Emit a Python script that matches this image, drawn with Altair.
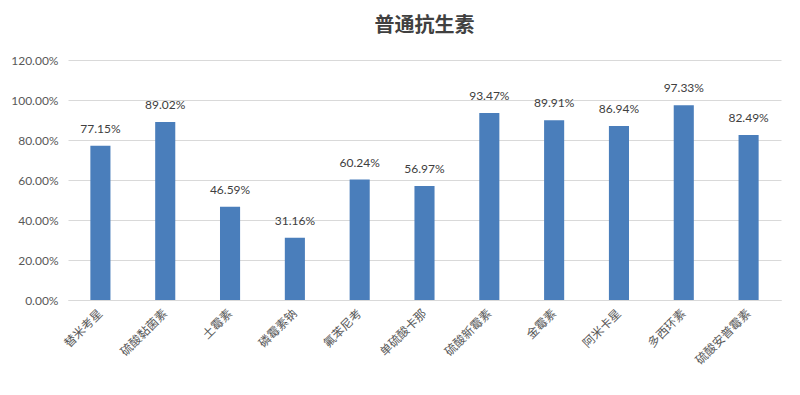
import altair as alt
import pandas as pd

categories = ["替米考星", "硫酸黏菌素", "土霉素", "磷霉素钠", "氟苯尼考", "单硫酸卡那",
              "硫酸新霉素", "金霉素", "阿米卡星", "多西环素", "硫酸安普霉素"]
values = [0.7715, 0.8902, 0.4659, 0.3116, 0.6024, 0.5697,
          0.9347, 0.8991, 0.8694, 0.9733, 0.8249]
y_ticks = [0, 0.2, 0.4, 0.6, 0.8, 1.0, 1.2]

df = pd.DataFrame({"cat": categories, "val": values})

FONT = "Noto Sans CJK SC"

x = alt.X("cat:N", sort=categories, title=None,
          scale=alt.Scale(paddingInner=0.69, paddingOuter=0.345),
          axis=alt.Axis(labelAngle=-45, labelAlign="right", labelBaseline="middle",
                        labelFont=FONT, labelFontSize=12, labelColor="#595959",
                        ticks=False, domainColor="#d9d9d9", labelPadding=11))
y = alt.Y("val:Q", title=None,
          scale=alt.Scale(domain=[0, 1.2], nice=False),
          axis=alt.Axis(values=y_ticks, format=".2%", labelFont="Lato", labelFontSize=12,
                        labelColor="#595959", ticks=False, domain=False,
                        gridColor="#d9d9d9", labelPadding=10, labelOverlap=False,
                        minExtent=60, maxExtent=60))

bars = alt.Chart(df).mark_bar(color="#4A7EBB").encode(x=x, y=y)
text = alt.Chart(df).mark_text(baseline="bottom", dy=-10, font="Lato", fontSize=12,
                               color="#404040").encode(
    x=x, y=y, text=alt.Text("val:Q", format=".2%"))

chart = (bars + text).properties(
    width=713, height=240,
    padding={"left": 0, "top": 8, "right": 5, "bottom": 5},
    title=alt.TitleParams("普通抗生素", font=FONT, fontSize=20, fontWeight="bold",
                          color="#404040", offset=18, anchor="middle"),
).configure_view(stroke=None)

chart.save("out.html", embed_options={"renderer": "svg", "actions": False})
